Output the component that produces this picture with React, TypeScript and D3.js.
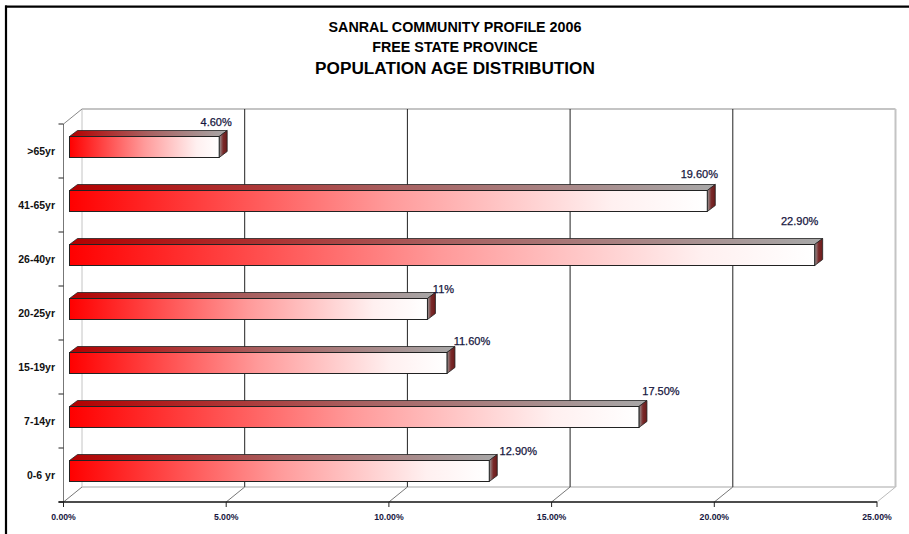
import React from "react";
import * as d3 from "d3";

const categories = [">65yr", "41-65yr", "26-40yr", "20-25yr", "15-19yr", "7-14yr", "0-6 yr"];
const values = [4.6, 19.6, 22.9, 11, 11.6, 17.5, 12.9];
const valueLabels = ["4.60%", "19.60%", "22.90%", "11%", "11.60%", "17.50%", "12.90%"];
const xTicks = [0, 5, 10, 15, 20, 25];
const titleLines = ["SANRAL COMMUNITY PROFILE 2006", "FREE STATE PROVINCE", "POPULATION AGE DISTRIBUTION"];

// label placement nudges (layout, relative to the bar's back-right corner)
const LABEL_DX = [-11, -16, -23, 8, 17, 14, 21];
const LABEL_DY = [-5, -6.5, -13.5, 0.5, -1.5, -6, 0];

const W = 909;
const H = 534;
const DEPTH_X = 18.5;
const DEPTH_Y = -15;
const BAR_OFF_X = 6;
const BAR_DX = 8;
const BAR_DY = -6;
const BAR_H = 21;

export default function App() {
  const x = d3.scaleLinear().domain([0, 25]).range([63.5, 877]);
  const y = d3.scaleBand<string>().domain(categories).range([124, 502]);
  const fx0 = x(0);
  const fx1 = x(25);
  const fy0 = y.range()[0];
  const fy1 = y.range()[1];
  const font = "'Liberation Sans', Arial, sans-serif";
  const navy = "#16163e";

  return (
    <svg width={W} height={H} style={{ position: "absolute", left: 0, top: 0, background: "#fff" }} fontFamily={font}>
      <defs>
        <linearGradient id="front" x1="0" x2="1" y1="0" y2="0">
          <stop offset="0" stopColor="#ff0000" />
          <stop offset="0.5" stopColor="#ff9a9a" />
          <stop offset="0.85" stopColor="#fff0f0" />
          <stop offset="1" stopColor="#ffffff" />
        </linearGradient>
        <linearGradient id="top" x1="0" x2="1" y1="0" y2="0">
          <stop offset="0" stopColor="#b30000" />
          <stop offset="0.5" stopColor="#a86060" />
          <stop offset="1" stopColor="#a8a8a8" />
        </linearGradient>
        <linearGradient id="side" x1="0" x2="1" y1="0" y2="0">
          <stop offset="0" stopColor="#9a9a9a" />
          <stop offset="0.5" stopColor="#7a2a2a" />
          <stop offset="1" stopColor="#6a1a1a" />
        </linearGradient>
      </defs>
      <rect x={0} y={0} width={W} height={H} fill="#fff" />
      {/* frame */}
      <line x1={5} x2={W} y1={6.7} y2={6.7} stroke="#000" strokeWidth={2.2} />
      <line x1={6} x2={6} y1={5.6} y2={H} stroke="#000" strokeWidth={2.2} />

      {/* titles */}
      <text x={455} y={32} textAnchor="middle" fontSize={14.3} fontWeight="bold" fill="#000">{titleLines[0]}</text>
      <text x={455} y={52} textAnchor="middle" fontSize={14.3} fontWeight="bold" fill="#000">{titleLines[1]}</text>
      <text x={455} y={74} textAnchor="middle" fontSize={17.2} fontWeight="bold" fill="#000">{titleLines[2]}</text>

      {/* back wall */}
      <line x1={fx0 + DEPTH_X} x2={fx1 + DEPTH_X} y1={fy0 + DEPTH_Y} y2={fy0 + DEPTH_Y} stroke="#c4c4c4" strokeWidth={2} />
      <line x1={fx1 + DEPTH_X} x2={fx1 + DEPTH_X} y1={fy0 + DEPTH_Y} y2={fy1 + DEPTH_Y} stroke="#c4c4c4" strokeWidth={2} />
      <line x1={fx0 + DEPTH_X} x2={fx1 + DEPTH_X} y1={fy1 + DEPTH_Y} y2={fy1 + DEPTH_Y} stroke="#c4c4c4" strokeWidth={1.5} />
      <line x1={fx0 + DEPTH_X} x2={fx0 + DEPTH_X} y1={fy0 + DEPTH_Y} y2={fy1 + DEPTH_Y} stroke="#c4c4c4" strokeWidth={1} />
      {/* left wall top diagonal */}
      <line x1={fx0} x2={fx0 + DEPTH_X} y1={fy0} y2={fy0 + DEPTH_Y} stroke="#888" strokeWidth={1} />

      {/* gridlines on back wall */}
      {xTicks.slice(1, -1).map((t) => (
        <line key={"g" + t} x1={x(t) + DEPTH_X} x2={x(t) + DEPTH_X} y1={fy0 + DEPTH_Y} y2={fy1 + DEPTH_Y} stroke="#222" strokeWidth={1} />
      ))}
      {/* floor diagonals */}
      {xTicks.map((t) => (
        <line key={"d" + t} x1={x(t)} x2={x(t) + DEPTH_X} y1={fy1} y2={fy1 + DEPTH_Y} stroke={t === 25 ? "#bbb" : "#777"} strokeWidth={1} />
      ))}

      {/* left axis */}
      <line x1={fx0} x2={fx0} y1={fy0} y2={fy1} stroke="#777" strokeWidth={1} />
      {[...categories.map((c) => y(c) as number), fy1].map((v, i) => (
        <line key={"lt" + i} x1={fx0 - 5} x2={fx0} y1={v} y2={v} stroke="#222" strokeWidth={1} />
      ))}
      {/* bottom axis */}
      <line x1={fx0 - 5} x2={fx1} y1={fy1} y2={fy1} stroke="#111" strokeWidth={1.3} />
      {xTicks.map((t) => (
        <line key={"bt" + t} x1={x(t)} x2={x(t)} y1={fy1} y2={fy1 + 5} stroke="#222" strokeWidth={1} />
      ))}
      {xTicks.map((t) => (
        <text key={"bl" + t} x={x(t)} y={520} textAnchor="middle" fontSize={8.7} fontWeight="bold" fill={navy}>
          {t.toFixed(2) + "%"}
        </text>
      ))}
      {categories.map((c) => (
        <text key={"cl" + c} x={55} y={(y(c) as number) + y.bandwidth() / 2 + 3.5} textAnchor="end" fontSize={10.5} fontWeight="bold" fill="#111">
          {c}
        </text>
      ))}

      {/* bars */}
      {categories.map((c, i) => {
        const x0 = x(0) + BAR_OFF_X;
        const x1 = x(values[i]) + BAR_OFF_X;
        const cy = (y(c) as number) + y.bandwidth() / 2 - 4;
        const yt = cy - BAR_H / 2;
        const yb = cy + BAR_H / 2;
        const topPts = `${x0},${yt} ${x0 + BAR_DX},${yt + BAR_DY} ${x1 + BAR_DX},${yt + BAR_DY} ${x1},${yt}`;
        const sidePts = `${x1},${yt} ${x1 + BAR_DX},${yt + BAR_DY} ${x1 + BAR_DX},${yb + BAR_DY} ${x1},${yb}`;
        return (
          <g key={"b" + c}>
            <polygon points={topPts} fill="url(#top)" stroke="#222" strokeWidth={0.8} strokeLinejoin="round" />
            <polygon points={sidePts} fill="url(#side)" stroke="#222" strokeWidth={0.8} strokeLinejoin="round" />
            <rect x={x0} y={yt} width={x1 - x0} height={BAR_H} fill="url(#front)" stroke="#222" strokeWidth={1} />
            <text
              x={x1 + BAR_DX + LABEL_DX[i]}
              y={yt + BAR_DY + LABEL_DY[i]}
              textAnchor="middle"
              fontSize={11}
              fill={navy}
              stroke={navy}
              strokeWidth={0.25}
            >
              {valueLabels[i]}
            </text>
          </g>
        );
      })}
    </svg>
  );
}
